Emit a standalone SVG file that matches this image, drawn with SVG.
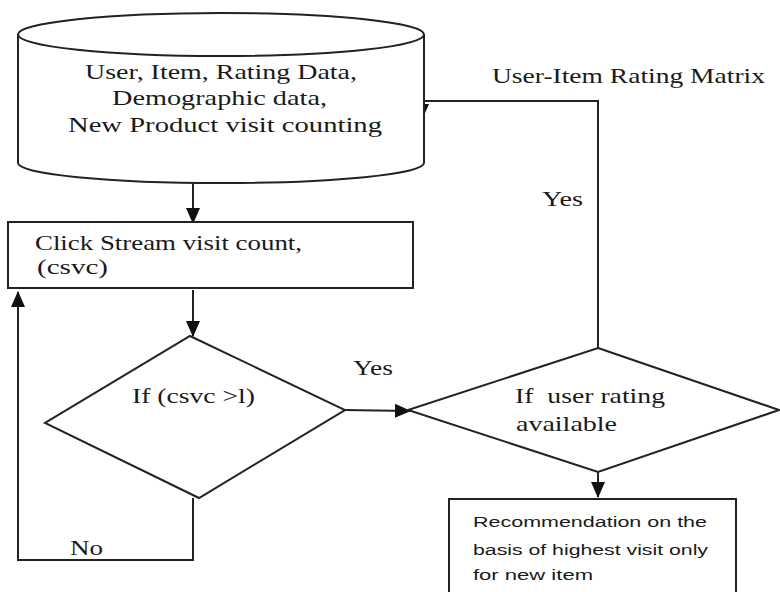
<svg xmlns="http://www.w3.org/2000/svg" width="780" height="592" viewBox="0 0 780 592">
<style>
.shape{fill:#fff;stroke:#222;stroke-width:2}
.conn{fill:none;stroke:#222;stroke-width:2}
.serif{font-family:"Liberation Serif","Times New Roman",serif;font-size:21.5px;fill:#1a1a1a}
.sans{font-family:"Liberation Sans",Arial,sans-serif;font-size:15.5px;fill:#1a1a1a}
</style>
<defs>
<marker id="arr" markerUnits="userSpaceOnUse" markerWidth="16" markerHeight="14" refX="15" refY="7" orient="auto">
<path d="M0,0 L16,7 L0,14 z" fill="#111"/>
</marker>
</defs>
<rect width="780" height="592" fill="#fff"/>
<g id="connectors">
<line class="conn" x1="193" y1="183" x2="193" y2="223" marker-end="url(#arr)"/>
<line class="conn" x1="193" y1="290" x2="193" y2="336" marker-end="url(#arr)"/>
<polyline class="conn" points="193,498 193,560 18,560 18,292" marker-end="url(#arr)"/>
<line class="conn" x1="345" y1="410" x2="410" y2="411" marker-end="url(#arr)"/>
<line class="conn" x1="598" y1="472" x2="598" y2="497" marker-end="url(#arr)"/>
<polyline class="conn" points="598,348 598,101 422,101 422,119" marker-end="url(#arr)"/>
<text class="serif" x="353" y="375" textLength="40" lengthAdjust="spacingAndGlyphs">Yes</text>
<text class="serif" x="70" y="555" textLength="33" lengthAdjust="spacingAndGlyphs">No</text>
<text class="serif" x="542" y="206" textLength="41" lengthAdjust="spacingAndGlyphs">Yes</text>
<text class="serif" x="492" y="83" textLength="273" lengthAdjust="spacingAndGlyphs">User-Item Rating Matrix</text>
</g>
<g id="database">
<path class="shape" d="M18,34 V163 A203,20 0 0 0 424,163 V34"/>
<ellipse class="shape" cx="221" cy="34.5" rx="203" ry="21.5"/>
<text class="serif" x="85" y="79" textLength="272" lengthAdjust="spacingAndGlyphs">User, Item, Rating Data,</text>
<text class="serif" x="112" y="105" textLength="215" lengthAdjust="spacingAndGlyphs">Demographic data,</text>
<text class="serif" x="68" y="132" textLength="314" lengthAdjust="spacingAndGlyphs">New Product visit counting</text>
</g>
<g id="clickstream">
<rect class="shape" x="8" y="222" width="405" height="66"/>
<text class="serif" x="35" y="250" textLength="267" lengthAdjust="spacingAndGlyphs">Click Stream visit count,</text>
<text class="serif" x="37" y="274" textLength="71" lengthAdjust="spacingAndGlyphs">(csvc)</text>
</g>
<g id="decision1">
<polygon class="shape" points="190,336 345,410 199,498 45,423"/>
<text class="serif" x="132" y="403" textLength="123" lengthAdjust="spacingAndGlyphs">If (csvc &gt;l)</text>
</g>
<g id="decision2">
<polygon class="shape" points="598,348 779,410 598,472 408,410"/>
<text class="serif" x="515" y="403" textLength="150" lengthAdjust="spacingAndGlyphs" xml:space="preserve">If  user rating</text>
<text class="serif" x="516" y="431" textLength="101" lengthAdjust="spacingAndGlyphs">available</text>
</g>
<g id="recommendation">
<rect class="shape" x="449" y="499" width="287" height="120"/>
<text class="sans" x="473" y="527" textLength="234" lengthAdjust="spacingAndGlyphs">Recommendation on the</text>
<text class="sans" x="473" y="555" textLength="235" lengthAdjust="spacingAndGlyphs">basis of highest visit only</text>
<text class="sans" x="473" y="580" textLength="120" lengthAdjust="spacingAndGlyphs">for new item</text>
</g>
</svg>
